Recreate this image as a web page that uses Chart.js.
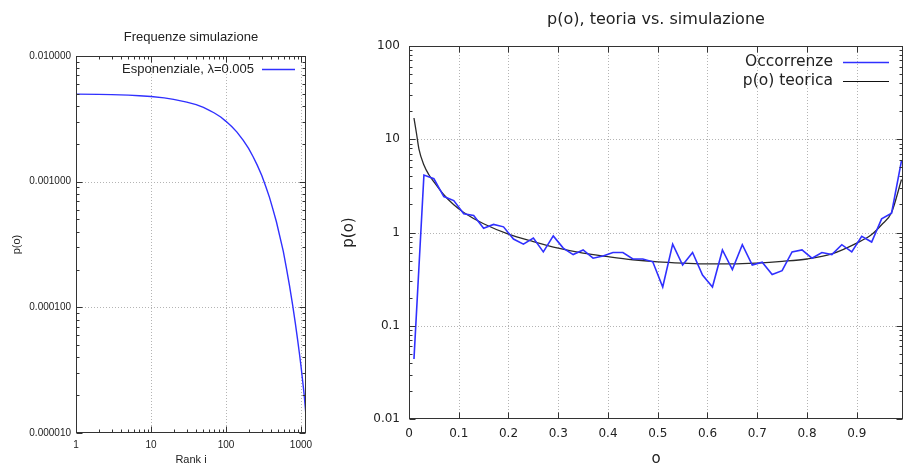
<!DOCTYPE html>
<html>
<head>
<meta charset="utf-8">
<script src="https://cdn.jsdelivr.net/npm/chart.js@4.4.1/dist/chart.umd.min.js"></script>
<style>
    html, body { margin: 0; padding: 0; background: #fff; }
    body { width: 904px; height: 467px; position: relative; overflow: hidden; }
    #left { position: absolute; left: 0; top: 0; }
    #right { position: absolute; left: 340px; top: 0; }
</style>
</head>
<body>
<canvas id="left" width="330" height="467"></canvas>
<canvas id="right" width="564" height="467"></canvas>
<script>
/* =========================
   DATA - left chart
========================== */
const rankValues = [1, 2, 3, 5, 7, 10, 15, 20, 30, 40, 50, 60, 70, 85, 100, 120, 140, 170, 200, 230,
    260, 300, 340, 380, 420, 470, 520, 580, 640, 700, 774, 840, 900, 950, 1000, 1050, 1100, 1166];
const freqValues = [0.00497, 0.00495, 0.00493, 0.00488, 0.00483, 0.00476, 0.00464, 0.00452, 0.0043, 0.0041,
    0.0039, 0.0037, 0.00352, 0.00327, 0.00302, 0.00274, 0.00248, 0.00213, 0.00184, 0.00158,
    0.00136, 0.00112, 0.00091, 0.00075, 0.00061, 0.00048, 0.00037, 0.00028, 0.000204, 0.000151,
    0.000104, 0.000075, 0.0000555, 0.0000435, 0.000034, 0.0000263, 0.0000204, 0.0000138];
const leftXTicks = [1, 10, 100, 1000];
const leftYTicks = [0.00001, 0.0001, 0.001, 0.01];

/* =========================
   DATA - right chart
========================== */
const occX = [0.01, 0.03, 0.05, 0.07, 0.09, 0.11, 0.13, 0.15, 0.17, 0.19,
    0.21, 0.23, 0.25, 0.27, 0.29, 0.31, 0.33, 0.35, 0.37, 0.39,
    0.41, 0.43, 0.45, 0.47, 0.49, 0.51, 0.53, 0.55, 0.57, 0.59,
    0.61, 0.63, 0.65, 0.67, 0.69, 0.71, 0.73, 0.75, 0.77, 0.79,
    0.81, 0.83, 0.85, 0.87, 0.89, 0.91, 0.93, 0.95, 0.97, 0.99];
const occY = [0.044, 4.13, 3.77, 2.43, 2.2, 1.59, 1.52, 1.11, 1.22, 1.15,
    0.85, 0.75, 0.87, 0.62, 0.92, 0.68, 0.58, 0.65, 0.53, 0.56,
    0.61, 0.61, 0.52, 0.52, 0.485, 0.26, 0.75, 0.447, 0.61, 0.35,
    0.26, 0.65, 0.40, 0.74, 0.447, 0.48, 0.355, 0.39, 0.62, 0.65,
    0.53, 0.61, 0.58, 0.74, 0.62, 0.91, 0.79, 1.40, 1.61, 5.9];
const teoX = [0.01, 0.015, 0.02, 0.03, 0.04, 0.05, 0.07, 0.09, 0.11, 0.15,
    0.2, 0.25, 0.3, 0.35, 0.4, 0.45, 0.5, 0.55, 0.6, 0.65,
    0.7, 0.75, 0.8, 0.85, 0.9, 0.93, 0.95, 0.97, 0.99];
const teoY = [16.9, 11.6, 7.85, 5.3, 4.16, 3.5, 2.54, 1.98, 1.64, 1.24,
    0.96, 0.8, 0.68, 0.6, 0.55, 0.51, 0.485, 0.47, 0.46, 0.46,
    0.47, 0.49, 0.52, 0.59, 0.77, 0.95, 1.21, 1.64, 3.7];
const rightXTicks = [0, 0.1, 0.2, 0.3, 0.4, 0.5, 0.6, 0.7, 0.8, 0.9];
const rightYTicks = [0.01, 0.1, 1, 10, 100];

const TEXT = "#222";
const BLUE = "#3030ff";

const toPoints = (xs, ys) => xs.map((x, i) => ({ x, y: ys[i] }));

/* =========================
   FRAME / GRID / TICKS / TITLE / LEGEND
========================== */
function logMinors(min, max) {
    const out = [];
    for (let d = Math.floor(Math.log10(min)); d <= Math.ceil(Math.log10(max)); d++) {
        for (let k = 1; k <= 9; k++) {
            const v = k * Math.pow(10, d);
            if (v >= min * 0.9999 && v <= max * 1.0001) out.push({ v, major: k === 1 });
        }
    }
    return out;
}

const framePlugin = {
    id: "frame",
    beforeDatasetsDraw(chart, args, opts) {
        const { ctx, chartArea: a } = chart;
        const xs = chart.scales.x, ys = chart.scales.y;
        ctx.save();
        ctx.strokeStyle = "#b4b4b4";
        ctx.lineWidth = 1;
        ctx.setLineDash([1, 2]);
        opts.xGrid.forEach(v => {
            const px = Math.round(xs.getPixelForValue(v)) + 0.5;
            ctx.beginPath(); ctx.moveTo(px, a.top); ctx.lineTo(px, a.bottom); ctx.stroke();
        });
        opts.yGrid.forEach(v => {
            const py = Math.round(ys.getPixelForValue(v)) + 0.5;
            ctx.beginPath(); ctx.moveTo(a.left, py); ctx.lineTo(a.right, py); ctx.stroke();
        });
        ctx.restore();
    },
    afterDraw(chart, args, opts) {
        const { ctx, chartArea: a } = chart;
        const xs = chart.scales.x, ys = chart.scales.y;
        const L = Math.round(a.left) + 0.5, R = Math.round(a.right) - 0.5;
        const T = Math.round(a.top) + 0.5, B = Math.round(a.bottom) - 0.5;
        ctx.save();
        ctx.strokeStyle = "#333";
        ctx.lineWidth = 1;
        ctx.strokeRect(L, T, R - L, B - T);

        // y ticks, both sides
        opts.yTicks.forEach(t => {
            const py = Math.round(ys.getPixelForValue(t.v)) + 0.5;
            const len = t.major ? 6 : 3;
            ctx.beginPath();
            ctx.moveTo(L, py); ctx.lineTo(L + len, py);
            ctx.moveTo(R, py); ctx.lineTo(R - len, py);
            ctx.stroke();
        });
        // x ticks, top and bottom
        opts.xTicks.forEach(t => {
            const px = Math.round(xs.getPixelForValue(t.v)) + 0.5;
            const len = t.major ? 6 : 3;
            ctx.beginPath();
            ctx.moveTo(px, B); ctx.lineTo(px, B - len);
            ctx.moveTo(px, T); ctx.lineTo(px, T + len);
            ctx.stroke();
        });

        // title
        ctx.fillStyle = TEXT;
        ctx.font = opts.titleFont;
        ctx.textAlign = "center";
        ctx.textBaseline = "middle";
        ctx.fillText(opts.title, (a.left + a.right) / 2, opts.titleY);

        // legend (gnuplot style: text then sample line)
        ctx.font = opts.legendFont;
        ctx.textAlign = "right";
        opts.legend.forEach(item => {
            ctx.fillStyle = TEXT;
            ctx.fillText(item.text, opts.legendTextX, item.y);
            ctx.strokeStyle = item.color;
            ctx.lineWidth = item.width;
            ctx.beginPath();
            ctx.moveTo(opts.legendLine[0], item.y + 0.5);
            ctx.lineTo(opts.legendLine[1], item.y + 0.5);
            ctx.stroke();
        });
        ctx.restore();
    }
};

/* =========================
   LEFT CHART
========================== */
const leftFont = "'Liberation Sans', Arial, sans-serif";

new Chart(document.getElementById("left"), {
    type: "line",
    data: {
        datasets: [{
            label: "Esponenziale, \u03bb=0.005",
            data: toPoints(rankValues, freqValues),
            borderColor: BLUE,
            borderWidth: 1.4,
            pointRadius: 0,
            fill: false,
            tension: 0
        }]
    },
    options: {
        responsive: false,
        animation: false,
        layout: { padding: { top: 56, right: 24, left: 0, bottom: 0 } },
        plugins: {
            legend: { display: false },
            tooltip: { enabled: false },
            frame: {
                title: "Frequenze simulazione",
                titleFont: "13px " + leftFont,
                titleY: 37,
                legendFont: "13px " + leftFont,
                legendTextX: 254,
                legendLine: [262, 295],
                legend: [{ text: "Esponenziale, \u03bb=0.005", color: BLUE, width: 1.4, y: 69 }],
                xGrid: [10, 100, 1000],
                yGrid: [0.0001, 0.001],
                xTicks: logMinors(1, 1166),
                yTicks: logMinors(0.00001, 0.01)
            }
        },
        scales: {
            x: {
                type: "logarithmic",
                min: 1,
                max: 1166,
                afterBuildTicks: s => { s.ticks = leftXTicks.map(v => ({ value: v })); },
                afterFit: s => { s.height = 34; },
                grid: { display: false, drawTicks: false },
                border: { display: false },
                ticks: {
                    color: TEXT, padding: 6, maxRotation: 0, autoSkip: false,
                    font: { family: leftFont, size: 10 },
                    callback: v => String(v)
                },
                title: {
                    display: true, text: "Rank i", color: TEXT,
                    font: { family: leftFont, size: 11 },
                    padding: { top: 0, bottom: 0 }
                }
            },
            y: {
                type: "logarithmic",
                min: 0.00001,
                max: 0.01,
                afterBuildTicks: s => { s.ticks = leftYTicks.map(v => ({ value: v })); },
                afterFit: s => { s.width = 76; },
                grid: { display: false, drawTicks: false },
                border: { display: false },
                ticks: {
                    color: TEXT, padding: 5, autoSkip: false,
                    font: { family: leftFont, size: 10 },
                    callback: v => Number(v).toFixed(6)
                },
                title: {
                    display: true, text: "p(o)", color: TEXT,
                    font: { family: leftFont, size: 11 },
                    padding: { top: 10, bottom: 0 }
                }
            }
        }
    },
    plugins: [framePlugin]
});

/* =========================
   RIGHT CHART
========================== */
const rightFont = "'DejaVu Sans', Verdana, sans-serif";

new Chart(document.getElementById("right"), {
    type: "line",
    data: {
        datasets: [{
            label: "Occorrenze",
            data: toPoints(occX, occY),
            borderColor: BLUE,
            borderWidth: 1.6,
            pointRadius: 0,
            fill: false,
            tension: 0
        }, {
            label: "p(o) teorica",
            data: toPoints(teoX, teoY),
            borderColor: "#2a2a2a",
            borderWidth: 1.3,
            pointRadius: 0,
            fill: false,
            cubicInterpolationMode: "monotone"
        }]
    },
    options: {
        responsive: false,
        animation: false,
        layout: { padding: { top: 46, right: 1, left: 0, bottom: 0 } },
        plugins: {
            legend: { display: false },
            tooltip: { enabled: false },
            frame: {
                title: "p(o), teoria vs. simulazione",
                titleFont: "16px " + rightFont,
                titleY: 20,
                legendFont: "15.5px " + rightFont,
                legendTextX: 493,
                legendLine: [503, 549],
                legend: [
                    { text: "Occorrenze", color: BLUE, width: 1.4, y: 62 },
                    { text: "p(o) teorica", color: "#111", width: 1, y: 81 }
                ],
                xGrid: [0.1, 0.2, 0.3, 0.4, 0.5, 0.6, 0.7, 0.8, 0.9],
                yGrid: [0.1, 1, 10],
                xTicks: rightXTicks.map(v => ({ v, major: true })),
                yTicks: logMinors(0.01, 100)
            }
        },
        scales: {
            x: {
                type: "linear",
                min: 0,
                max: 0.993,
                afterBuildTicks: s => { s.ticks = rightXTicks.map(v => ({ value: v })); },
                afterFit: s => { s.height = 48; },
                grid: { display: false, drawTicks: false },
                border: { display: false },
                ticks: {
                    color: TEXT, padding: 8, maxRotation: 0, autoSkip: false,
                    font: { family: rightFont, size: 12 },
                    callback: v => String(Math.round(v * 10) / 10)
                },
                title: {
                    display: true, text: "o", color: TEXT,
                    font: { family: rightFont, size: 15, lineHeight: 1 },
                    padding: { top: 0, bottom: 0 }
                }
            },
            y: {
                type: "logarithmic",
                min: 0.01,
                max: 100,
                afterBuildTicks: s => { s.ticks = rightYTicks.map(v => ({ value: v })); },
                afterFit: s => { s.width = 69; },
                grid: { display: false, drawTicks: false },
                border: { display: false },
                ticks: {
                    color: TEXT, padding: 9, autoSkip: false,
                    font: { family: rightFont, size: 12 },
                    callback: v => String(v)
                },
                title: {
                    display: true, text: "p(o)", color: TEXT,
                    font: { family: rightFont, size: 15 },
                    padding: { top: 0, bottom: 0 }
                }
            }
        }
    },
    plugins: [framePlugin]
});
</script>
</body>
</html>
